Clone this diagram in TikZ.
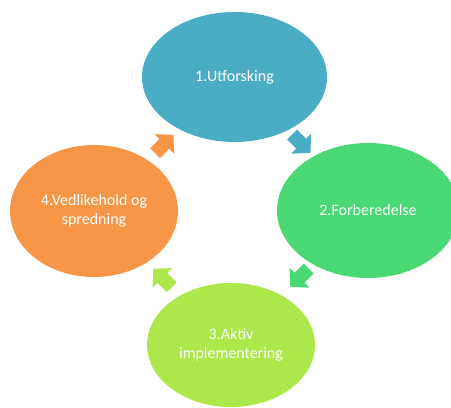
\documentclass[tikz,border=0pt]{standalone}
\usepackage{fontspec}
\setmainfont{Carlito}
\usetikzlibrary{shapes.geometric,calc}
\definecolor{cblue}{RGB}{75,172,198}
\definecolor{cgreen}{RGB}{74,216,116}
\definecolor{clime}{RGB}{173,232,74}
\definecolor{corange}{RGB}{247,150,70}
\tikzset{
  stage/.style={ellipse, fill=#1, text=white, align=center, inner sep=0pt,
    font=\fontsize{16}{19.5}\selectfont},
  cyclearrow/.pic={\fill[pic actions] (-13,-7) -- (0,-7) -- (0,-14) -- (13,0) -- (0,14) -- (0,7) -- (-13,7) -- cycle;}
}
\begin{document}
\begin{tikzpicture}[x=1pt,y=1pt]
\useasboundingbox (0,0) rectangle (451,408);
\clip (0,0) rectangle (451,408);
\node[stage=cblue, minimum width=185, minimum height=130] (e1) at (234.5,331) {1.Utforsking};
\node[stage=cgreen, minimum width=182, minimum height=135] (e2) at (368,197.5) {2.Forberedelse};
\node[stage=clime, minimum width=168, minimum height=124] (e3) at (231,63) {3.Aktiv\\implementering};
\node[stage=corange, minimum width=168, minimum height=132] (e4) at (94,197) {4.Vedlikehold og\\spredning};
\pic[rotate=-45, fill=cblue] at ($(e1)!0.5!(e2)$) {cyclearrow};
\pic[rotate=-135, fill=cgreen] at ($(e2)!0.5!(e3)$) {cyclearrow};
\pic[rotate=135, fill=clime] at ($(e3)!0.5!(e4)$) {cyclearrow};
\pic[rotate=45, fill=corange] at ($(e4)!0.5!(e1)$) {cyclearrow};
\end{tikzpicture}
\end{document}
